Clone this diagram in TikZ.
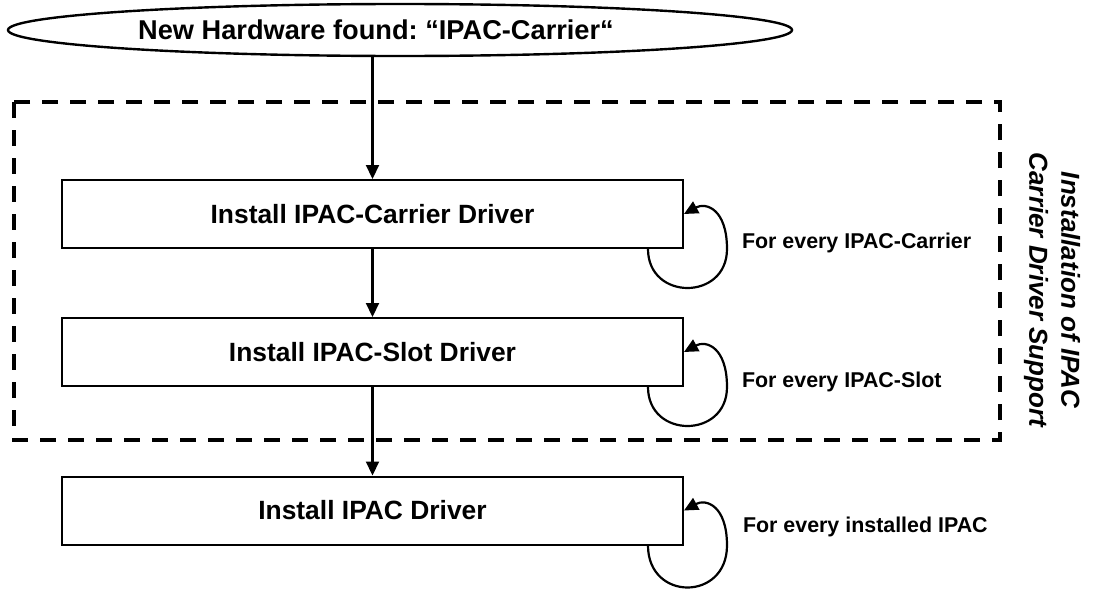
\documentclass[tikz,border=0pt]{standalone}
\usepackage{fontspec}
\setmainfont{Liberation Sans}
\frenchspacing
\usetikzlibrary{arrows.meta,shapes.geometric}

\begin{document}
\begin{tikzpicture}[x=0.5pt,y=-0.5pt,>={Triangle[length=7pt,width=6.5pt]},
  font=\bfseries\fontsize{13.2}{15}\selectfont,
  stepbox/.style={draw,line width=1pt,minimum width=310.5pt,minimum height=34pt,inner sep=0pt},
  loopnote/.style={anchor=west,font=\bfseries\fontsize{10.7}{13}\selectfont},
  flow/.style={->,line width=1.1pt}]
\useasboundingbox (0,0) rectangle (1094,594);
\node[draw,ellipse,line width=1.2pt,minimum width=392pt,minimum height=26pt,inner sep=0pt,
  font=\bfseries\fontsize{13.6}{15}\selectfont] (found) at (400,30) {\hspace*{-24pt}New Hardware found: “IPAC-Carrier“};
\draw[line width=2pt,dash pattern=on 8pt off 6pt] (14,102) rectangle (1000,440);
\node[stepbox] (carrier) at (372.5,214) {Install IPAC-Carrier Driver};
\node[stepbox] (slot) at (372.5,352) {Install IPAC-Slot Driver};
\node[stepbox] (ipac) at (372.5,510.5) {Install IPAC Driver};
\draw[flow] (carrier.north |- found.south) -- (carrier);
\draw[flow] (carrier) -- (slot);
\draw[flow] (slot) -- (ipac);
% loops on the right
\draw[flow] ([xshift=-18pt]carrier.south east) .. controls +(0,52) and +(0,52) .. ([xshift=21.5pt]carrier.south east)
  .. controls +(0,-40) and +(22,-12) .. (carrier.east);
\draw[flow] ([xshift=-18pt]slot.south east) .. controls +(0,52) and +(0,52) .. ([xshift=21.5pt]slot.south east)
  .. controls +(0,-40) and +(22,-12) .. (slot.east);
\draw[flow] ([xshift=-18pt]ipac.south east) .. controls +(0,56) and +(0,56) .. ([xshift=21.5pt]ipac.south east)
  .. controls +(0,-40) and +(22,-12) .. (ipac.east);
\node[loopnote] (carriernote) at (735,243) {For every IPAC-Carrier};
\node[loopnote] (slotnote) at (735,382) {For every IPAC-Slot};
\node[loopnote] (ipacnote) at (736,527) {For every installed IPAC};
\node[rotate=-90,align=center,font=\bfseries\itshape\fontsize{13}{16}\selectfont] (support) at (1052,290)
  {Installation of IPAC\\Carrier Driver Support};
\end{tikzpicture}
\end{document}
